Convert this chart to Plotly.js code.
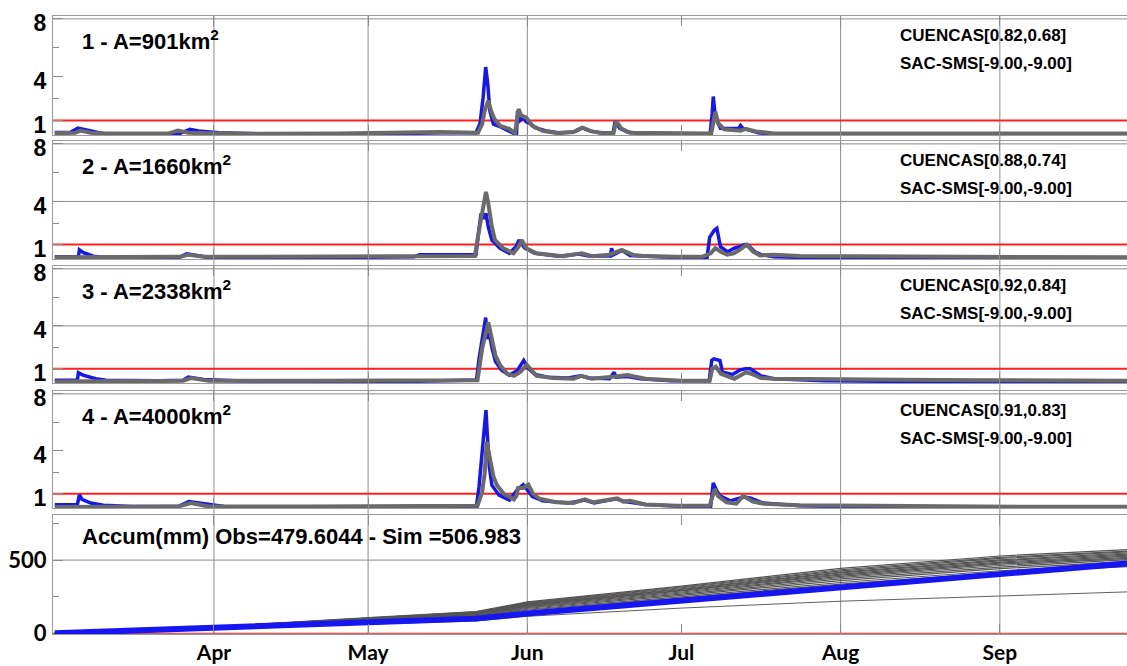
<!DOCTYPE html>
<html><head><meta charset="utf-8">
<script src="https://cdn.plot.ly/plotly-3.0.1.min.js"></script>
<style>html,body{margin:0;padding:0;background:#fff}</style>
</head><body><div id="chart" style="width:1127px;height:666px"></div>
<script>
// ---- data (day offsets from Mar 1, values) ----
const monthTickDays = [31, 61, 92, 122, 153, 184];
const monthLabels = ['Apr', 'May', 'Jun', 'Jul', 'Aug', 'Sep'];
const gridMonthDays = [31, 61, 92, 153, 184];
const thresholds = [1, 1, 1, 1];
const panelTitles = ['1 - A=901km<sup>2</sup>', '2 - A=1660km<sup>2</sup>', '3 - A=2338km<sup>2</sup>', '4 - A=4000km<sup>2</sup>'];
const statsLine1 = ['CUENCAS[0.82,0.68]', 'CUENCAS[0.88,0.74]', 'CUENCAS[0.92,0.84]', 'CUENCAS[0.91,0.83]'];
const statsLine2 = ['SAC-SMS[-9.00,-9.00]', 'SAC-SMS[-9.00,-9.00]', 'SAC-SMS[-9.00,-9.00]', 'SAC-SMS[-9.00,-9.00]'];
const accumText = 'Accum(mm) Obs=479.6044 - Sim =506.983';

const p1ObsDay = [0,3,4.5,6,8.8,10,24,25,26.3,28,32,40,50,60,75,82,82.8,83.4,83.9,84.3,84.7,85.4,86.5,87.5,88.5,89.4,89.9,90.1,90.6,91.2,91.8,92.5,93.5,95.5,98,101,102.6,104,106,108.7,109.1,110,111.5,114,120,127.6,128.0,128.2,128.5,128.9,129.6,131,133.2,133.5,134,135.5,137,140,150,160,170,180,190,209];
const p1ObsVal = [0.17,0.17,0.47,0.35,0.12,0.05,0.05,0.2,0.4,0.28,0.15,0.08,0.05,0.05,0.15,0.15,0.8,2.6,4.68,3.5,1.67,0.75,0.6,0.45,0.25,0.1,0.1,1.65,1.0,1.2,0.9,0.8,0.5,0.3,0.15,0.2,0.5,0.3,0.15,0.15,0.95,0.45,0.2,0.1,0.08,0.08,1.5,2.65,1.6,0.98,0.47,0.45,0.45,0.65,0.45,0.3,0.15,0.05,0.03,0.05,0.03,0.05,0.03,0.03];
const p1SimDay = [0,4,5,7,10,22,24,26,30,40,55,65,75,82.4,83.2,83.7,84.4,85,85.6,86.7,88.5,89.6,90.0,90.3,90.8,91.8,93,95,98,101,102.8,104.5,107,108.8,109.3,110.3,112,120,127.8,128.3,128.6,129.2,130.3,133.5,134.5,136.5,140,150,165,180,190,209];
const p1SimVal = [0.12,0.15,0.3,0.15,0.1,0.1,0.3,0.15,0.12,0.08,0.1,0.15,0.2,0.15,0.75,1.67,2.37,1.6,1.1,0.63,0.42,0.12,1.2,1.79,1.35,1.2,0.63,0.28,0.12,0.2,0.5,0.25,0.12,0.15,0.95,0.45,0.15,0.1,0.1,1.0,1.6,0.8,0.4,0.3,0.42,0.25,0.1,0.1,0.1,0.12,0.1,0.1];

const p2ObsDay = [0,4.6,4.8,5.5,7.5,10,14,24,25.7,28,31,42,50,60,70,71,80,82.0,82.5,83.0,83.5,83.95,84.4,85.1,86.7,88.5,89.8,90.4,91.5,93.5,98,102,104,108.2,108.4,108.8,110.4,112,120,127.0,127.5,128.0,128.4,128.9,129.2,129.6,131,132.3,133.3,134.3,135,136.3,137.5,140,150,165,180,209];
const p2ObsVal = [0.15,0.15,0.63,0.45,0.2,0.1,0.05,0.08,0.36,0.2,0.05,0.05,0.12,0.12,0.15,0.3,0.28,0.3,1.79,3.17,2.8,3.17,2.24,1.32,0.75,0.4,0.86,1.32,0.75,0.4,0.2,0.35,0.2,0.2,0.75,0.3,0.6,0.25,0.12,0.12,1.5,1.79,2.0,2.13,1.5,0.86,0.5,0.75,0.85,1.0,0.95,0.5,0.3,0.15,0.08,0.05,0.05,0.05];
const p2SimDay = [0,10,20,24.5,26,29,40,50,70,81.8,82.5,83.3,83.95,84.4,85.1,85.7,87.3,89.3,90.3,90.9,91.8,93.8,98.9,102.6,104.6,108,110.4,112.7,115,121,126,127.7,128.6,129.6,130.9,132.2,133.2,134.7,136,137.3,140,145,160,175,209];
const p2SimVal = [0.12,0.15,0.15,0.15,0.3,0.15,0.15,0.17,0.2,0.2,1.79,3.62,4.66,3.86,2.24,1.32,0.75,0.4,0.86,1.32,0.75,0.4,0.2,0.4,0.2,0.3,0.63,0.28,0.2,0.15,0.15,0.4,0.75,0.52,0.3,0.4,0.6,1.0,0.5,0.25,0.3,0.2,0.17,0.15,0.12];

const p3ObsDay = [0,4.4,4.6,5.5,8,10,20,25,26,29,35,50,70,80,82.1,82.6,83.2,83.9,84.2,84.6,85.1,85.8,87,88.5,90,91.3,92,93.5,96,100,102.3,104,108,108.9,109.3,111.5,114,120,127.4,127.9,128.3,129.5,130,132,133.3,134.5,135.4,137.5,140,150,170,190,209];
const p3ObsVal = [0.19,0.19,0.72,0.55,0.3,0.2,0.15,0.2,0.42,0.25,0.15,0.12,0.12,0.2,0.2,1.69,3.08,4.58,3.08,3.5,2.5,1.5,0.9,0.55,0.85,1.58,1.1,0.6,0.4,0.35,0.5,0.35,0.3,0.75,0.4,0.45,0.3,0.15,0.15,1.58,1.69,1.58,0.75,0.6,0.9,1.0,1.0,0.5,0.3,0.15,0.1,0.08,0.08];
const p3SimDay = [0,10,25,26.5,30,50,70,82.3,83.2,83.9,84.4,85.1,85.8,86.8,88.1,89.4,90.7,91.9,92.5,93.8,97,101,102.5,104.5,109.1,111.5,115,122,127.5,128,128.7,129.7,132.3,133.6,134.6,135.6,137.5,140,150,165,180,209];
const p3SimVal = [0.1,0.1,0.15,0.35,0.15,0.15,0.15,0.2,2.39,3.6,4.24,3.08,1.92,1.2,0.65,0.5,0.8,1.28,1.0,0.5,0.35,0.3,0.5,0.3,0.45,0.56,0.3,0.15,0.15,1.0,1.15,0.65,0.3,0.55,0.75,0.65,0.35,0.3,0.25,0.22,0.2,0.15];

const p4ObsDay = [0,4.4,4.8,5.3,7,9.5,15,24,26.1,29,33,50,70,82.1,82.6,83.3,83.95,84.2,84.6,85.1,86.5,88.5,90.1,91.2,91.9,93,95,100,103.2,105,109.3,111,115,122,127.7,128.2,128.9,129.5,131.5,134.1,135.4,137.9,145,160,180,209];
const p4ObsVal = [0.23,0.23,0.93,0.6,0.35,0.2,0.1,0.1,0.46,0.3,0.1,0.07,0.1,0.1,1.51,4.3,6.86,5.24,2.9,1.6,0.9,0.55,1.3,1.63,1.3,0.8,0.5,0.35,0.55,0.35,0.65,0.45,0.25,0.12,0.12,1.75,1.2,0.85,0.5,0.77,0.7,0.35,0.15,0.08,0.05,0.05];
const p4SimDay = [0,10,24,26.5,30,50,75,82.3,83.2,83.7,84.1,84.7,85.4,86.1,87.4,89.4,89.9,90.2,91.2,92.2,93.1,94.4,97.6,101,103.2,104.9,109.5,110.7,112,115,121,127.5,128.5,129.1,130.8,132.7,134.0,135.9,138,145,160,180,209];
const p4SimVal = [0.07,0.08,0.1,0.35,0.1,0.1,0.12,0.15,1.1,2.44,4.65,3.6,2.2,1.6,1.0,0.6,0.86,1.4,1.4,1.63,1.0,0.65,0.4,0.35,0.6,0.4,0.67,0.45,0.5,0.25,0.15,0.15,1.33,0.85,0.4,0.3,0.85,0.45,0.3,0.2,0.15,0.1,0.08];

const accObsDay = [0, 31, 61, 82, 92, 122, 137, 153, 184, 209];
const accObsVal = [0, 36, 70, 100, 135, 226, 265, 313, 404, 478];
const accSimDay = [0, 31, 61, 82, 92, 122, 153, 184, 209];
const accSimMembers = [
  [0, 45, 107, 148, 214, 322, 443, 528, 572],
  [0, 44, 104, 146, 209, 316, 434, 518, 562],
  [0, 44, 103, 143, 205, 311, 426, 511, 557],
  [0, 43, 100, 140, 201, 304, 418, 501, 549],
  [0, 42, 99, 138, 198, 300, 412, 495, 541],
  [0, 42, 97, 135, 193, 293, 404, 486, 534],
  [0, 41, 95, 133, 190, 289, 397, 479, 527],
  [0, 41, 94, 130, 186, 282, 389, 472, 519],
  [0, 40, 91, 127, 181, 275, 381, 463, 512],
  [0, 40, 89, 123, 176, 267, 371, 452, 503],
  [0, 39, 87, 120, 171, 259, 360, 441, 491],
  [0, 38, 84, 116, 164, 249, 347, 427, 473],
  [0, 38, 82, 112, 159, 241, 336, 414, 456]
];
const accSimOutlier = [0, 30, 60, 84, 116, 172, 219, 255, 283];

// ---- helpers ----
const startMs = Date.UTC(2009, 2, 1);
function dayToDate(d) {
  const t = new Date(startMs + d * 86400000);
  return t.toISOString().slice(0, 16).replace('T', ' ');
}
const toDates = arr => arr.map(dayToDate);

const W = 1127, H = 666, ML = 53, MR = 0, MT = 16, MB = 32;
const plotH = H - MT - MB, plotW = W - ML - MR;
const py = px => (H - MB - px) / plotH;
const pxX = px => (px - ML) / plotW;

const panelPix = [[16, 135], [141, 259], [266, 383], [391, 508], [515, 634]];

const BLUE = 'rgb(22,22,240)';
const GRAY = '#6a6a6a';
const FRAME = '#9a9a9a';
const GRID = '#8c8c8c';
const FONT = 'Liberation Sans, Arial, sans-serif';
const xRange = [dayToDate(-0.34), dayToDate(208.75)];
const monthDates = monthTickDays.map(dayToDate);

const obsDays = [p1ObsDay, p2ObsDay, p3ObsDay, p4ObsDay];
const obsVals = [p1ObsVal, p2ObsVal, p3ObsVal, p4ObsVal];
const simDays = [p1SimDay, p2SimDay, p3SimDay, p4SimDay];
const simVals = [p1SimVal, p2SimVal, p3SimVal, p4SimVal];

const traces = [];
const layout = {
  width: W, height: H,
  margin: {l: ML, r: MR, t: MT, b: MB},
  paper_bgcolor: '#ffffff', plot_bgcolor: 'rgba(0,0,0,0)',
  showlegend: false,
  font: {family: FONT, color: '#000'},
  shapes: [], annotations: []
};

for (let i = 0; i < 5; i++) {
  const n = i + 1;
  const xa = 'xaxis' + (n === 1 ? '' : n), ya = 'yaxis' + (n === 1 ? '' : n);
  const xr = 'x' + (n === 1 ? '' : n), yr = 'y' + (n === 1 ? '' : n);
  const dom = [py(panelPix[i][1]), py(panelPix[i][0])];
  layout[xa] = {
    domain: [0, 1], anchor: yr, type: 'date', range: xRange,
    showgrid: false, zeroline: false, showline: true, linecolor: FRAME, linewidth: 1, mirror: 'ticks',
    tickmode: 'array', tickvals: monthDates, ticktext: monthLabels,
    ticks: 'inside', ticklen: 10, tickcolor: '#8c8c8c', tickwidth: 1,
    showticklabels: n === 5,
    tickfont: {family: 'Lato, sans-serif', size: 21, weight: 700, color: '#000'},
    fixedrange: true
  };
  if (n > 1) layout[xa].matches = 'x';
  if (n < 5) {
    layout[ya] = {
      domain: dom, anchor: xr, range: [0, 8.2],
      showgrid: false, zeroline: false, showline: true, linecolor: FRAME, linewidth: 1, mirror: true,
      tickmode: 'array', tickvals: [1, 4, 8], ticktext: ['1', '4', '8'],
      ticks: 'inside', ticklen: 10, tickcolor: '#8c8c8c',
      minor: {tickmode: 'array', tickvals: [2.5, 6], ticks: 'inside', ticklen: 6, tickcolor: '#8c8c8c', showgrid: false},
      tickfont: {family: 'Liberation Sans, Arial, sans-serif', size: 23, weight: 700, color: '#000'},
      ticklabelshift: 4, ticklabelstandoff: 1,
      fixedrange: true
    };
    const gl = (n === 2 || n === 3) ? [4, 8] : [8];
    gl.forEach(v => layout.shapes.push({type: 'line', layer: 'below', xref: xr + ' domain', yref: yr, x0: 0, x1: 1, y0: v, y1: v, line: {color: GRID, width: 1}}));
    layout.shapes.push({type: 'line', layer: 'below', xref: xr + ' domain', yref: yr, x0: 0, x1: 1, y0: thresholds[i], y1: thresholds[i], line: {color: '#ff1f1f', width: 2}});
    traces.push({type: 'scatter', mode: 'lines', x: toDates(obsDays[i]), y: obsVals[i], xaxis: xr, yaxis: yr,
      line: {color: BLUE, width: 3.5}, hoverinfo: 'skip'});
    traces.push({type: 'scatter', mode: 'lines', x: toDates(simDays[i]), y: simVals[i], xaxis: xr, yaxis: yr,
      line: {color: GRAY, width: 4}, hoverinfo: 'skip'});
    const ty = (panelPix[i][0] + 24);
    layout.annotations.push({xref: 'paper', yref: 'paper', x: pxX(80), y: py(ty), xanchor: 'left', yanchor: 'middle',
      text: panelTitles[i], showarrow: false, font: {family: FONT, size: 22, weight: 700, color: '#000'}});
    layout.annotations.push({xref: 'paper', yref: 'paper', x: pxX(898), y: py(panelPix[i][0] + 19.5), xanchor: 'left', yanchor: 'middle',
      text: statsLine1[i], showarrow: false, font: {family: FONT, size: 17, weight: 700, color: '#000'}});
    layout.annotations.push({xref: 'paper', yref: 'paper', x: pxX(898), y: py(panelPix[i][0] + 47.5), xanchor: 'left', yanchor: 'middle',
      text: statsLine2[i], showarrow: false, font: {family: FONT, size: 17, weight: 700, color: '#000'}});
  } else {
    layout[ya] = {
      domain: dom, anchor: xr, range: [-5, 808],
      showgrid: false, zeroline: false, showline: true, linecolor: FRAME, linewidth: 1, mirror: true,
      tickmode: 'array', tickvals: [0, 500], ticktext: ['0', '500'],
      ticks: 'inside', ticklen: 10, tickcolor: '#8c8c8c',
      minor: {tickmode: 'array', tickvals: [250, 750], ticks: 'inside', ticklen: 6, tickcolor: '#8c8c8c', showgrid: false},
      tickfont: {family: 'Lato, sans-serif', size: 22, weight: 700, color: '#000'},
      ticklabelstandoff: 1,
      fixedrange: true
    };
    layout.shapes.push({type: 'line', layer: 'below', xref: xr + ' domain', yref: yr, x0: 0, x1: 1, y0: 500, y1: 500, line: {color: GRID, width: 1}});
    layout.shapes.push({type: 'line', layer: 'below', xref: xr + ' domain', yref: yr, x0: 0, x1: 1, y0: 0, y1: 0, line: {color: '#e02020', width: 1}});
    accSimMembers.forEach(m => traces.push({type: 'scatter', mode: 'lines', x: toDates(accSimDay), y: m, xaxis: xr, yaxis: yr,
      line: {color: '#555555', width: 1.2}, hoverinfo: 'skip'}));
    traces.push({type: 'scatter', mode: 'lines', x: toDates(accSimDay), y: accSimOutlier, xaxis: xr, yaxis: yr,
      line: {color: '#606060', width: 1}, hoverinfo: 'skip'});
    traces.push({type: 'scatter', mode: 'lines', x: toDates(accObsDay), y: accObsVal, xaxis: xr, yaxis: yr,
      line: {color: BLUE, width: 6}, hoverinfo: 'skip'});
    layout.annotations.push({xref: 'paper', yref: 'paper', x: pxX(80), y: py(536), xanchor: 'left', yanchor: 'middle',
      text: accumText, showarrow: false, font: {family: FONT, size: 22, weight: 700, color: '#000'}});
  }
}
gridMonthDays.forEach(d => layout.shapes.unshift({type: 'line', layer: 'below', xref: 'x', yref: 'paper',
  x0: dayToDate(d), x1: dayToDate(d), y0: 0, y1: 1, line: {color: GRID, width: 1}}));

Plotly.newPlot('chart', traces, layout, {displayModeBar: false, staticPlot: true});
</script>
</body></html>
